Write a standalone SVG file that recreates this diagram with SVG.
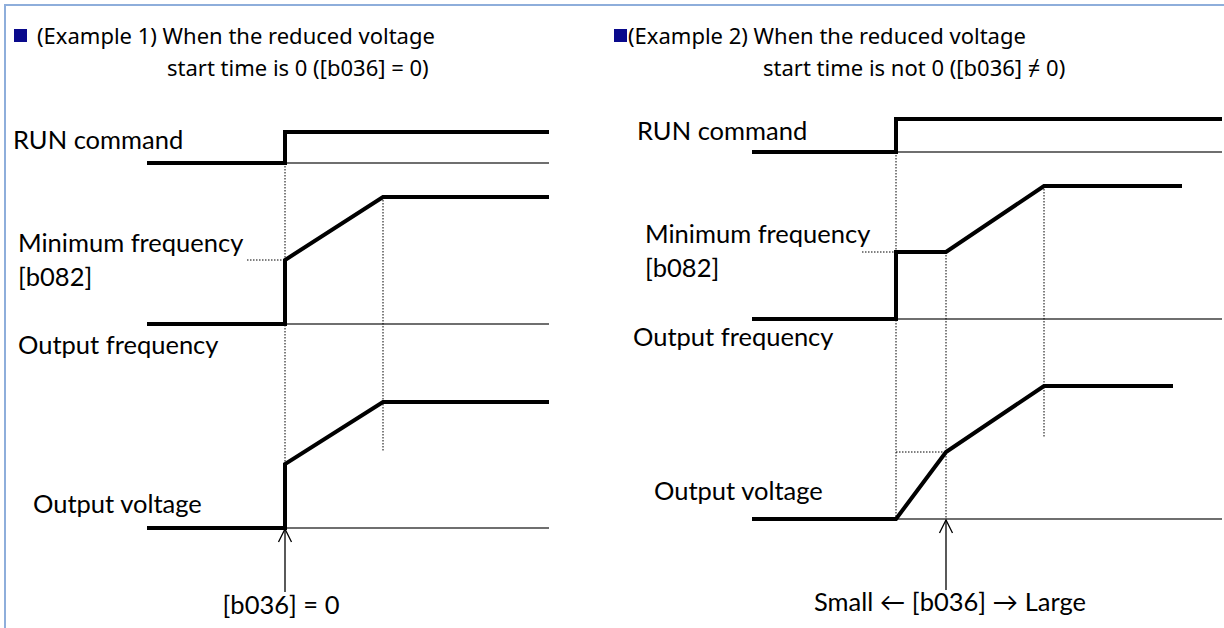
<svg xmlns="http://www.w3.org/2000/svg" width="1224" height="628" viewBox="0 0 1224 628">
<defs>
<style>
.title{font-family:"Noto Sans","Noto Sans CJK JP",sans-serif;font-size:22px;fill:#000}
.lbl{font-family:Lato,"Liberation Sans","DejaVu Sans",sans-serif;font-size:25.5px;fill:#000}
.sig{fill:none;stroke:#000;stroke-width:4;stroke-linejoin:miter}
.base{fill:none;stroke:#404040;stroke-width:1.3}
.dot{fill:none;stroke:#000;stroke-width:1;stroke-dasharray:1.5 1.5}
.arr{fill:none;stroke:#000;stroke-width:1.3}
.sq{fill:#0A0A8C}
</style>
<marker id="ah" viewBox="-16 -10 20 20" markerWidth="20" markerHeight="20" refX="0" refY="0" orient="auto" markerUnits="userSpaceOnUse">
<path d="M-13,-6.5 L0,0 L-13,6.5" fill="none" stroke="#000" stroke-width="1.3"/>
</marker>
</defs>
<rect x="5" y="5" width="1240" height="640" fill="#fff" stroke="#8EAEDB" stroke-width="2"/>

<g id="left-title">
<rect class="sq" x="14" y="29" width="13" height="13"/>
<text class="title" x="37" y="44">(Example 1) When the reduced voltage</text>
<text class="title" x="167" y="76">start time is 0 ([b036] = 0)</text>
</g>
<g id="left-labels">
<text class="lbl" x="13" y="149">RUN command</text>
<text class="lbl" x="18" y="252">Minimum frequency</text>
<text class="lbl" x="18" y="286">[b082]</text>
<text class="lbl" x="18" y="354">Output frequency</text>
<text class="lbl" x="33" y="513">Output voltage</text>
<text class="lbl" x="281" y="614" text-anchor="middle">[b036] = 0</text>
</g>
<g id="left-connectors">
<path class="base" d="M285,163 H549 M285,324 H549 M285,528 H549"/>
<path class="dot" d="M285,163 V528 M383,197 V452 M247,260 H285"/>
<path class="sig" d="M147,163 H285 V132 H549"/>
<path class="sig" d="M147,324 H285 V260 L383,197 H549"/>
<path class="sig" d="M147,528 H285 V464 L383,402 H549"/>
<path class="arr" d="M285,592 V529" marker-end="url(#ah)"/>
</g>

<g id="right-title">
<rect class="sq" x="614" y="29" width="13" height="13"/>
<text class="title" x="628" y="44">(Example 2) When the reduced voltage</text>
<text class="title" x="763" y="76">start time is not 0 ([b036] ≠ 0)</text>
</g>
<g id="right-labels">
<text class="lbl" x="637" y="140">RUN command</text>
<text class="lbl" x="645" y="243">Minimum frequency</text>
<text class="lbl" x="645" y="277">[b082]</text>
<text class="lbl" x="633" y="346">Output frequency</text>
<text class="lbl" x="654" y="500">Output voltage</text>
<text class="lbl" x="950" y="611" text-anchor="middle">Small ← [b036] → Large</text>
</g>
<g id="right-connectors">
<path class="base" d="M896,152 H1222 M896,319 H1222 M896,519 H1222"/>
<path class="dot" d="M896,152 V519 M946,252 V519 M1044,186 V438 M862,252 H896 M896,452 H946"/>
<path class="sig" d="M752,152 H896 V119 H1222"/>
<path class="sig" d="M752,319 H896 V252 H946 L1044,186 H1182"/>
<path class="sig" d="M752,519 H896 L946,452 L1044,386 H1173"/>
<path class="arr" d="M946,590 V520" marker-end="url(#ah)"/>
</g>
</svg>
